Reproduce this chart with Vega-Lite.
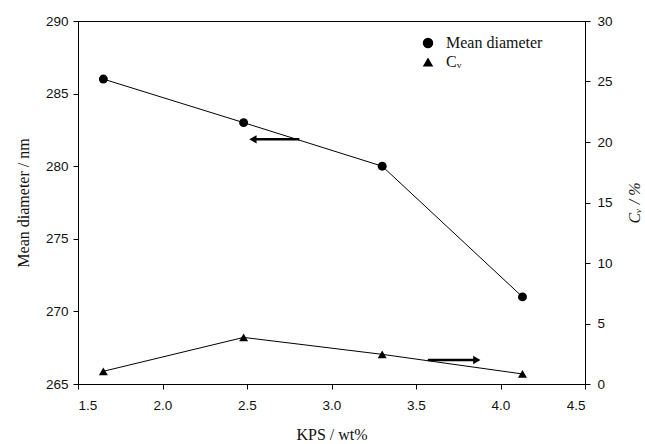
{
  "$schema": "https://vega.github.io/schema/vega-lite/v6.json",
  "width": 507,
  "height": 363,
  "autosize": "none",
  "padding": {"left": 78, "top": 21, "right": 60, "bottom": 60},
  "background": "white",
  "datasets": {
    "diam": [
      {"kps": 1.65, "diameter": 286},
      {"kps": 2.48, "diameter": 283},
      {"kps": 3.30, "diameter": 280},
      {"kps": 4.13, "diameter": 271}
    ],
    "cv": [
      {"kps": 1.65, "cv": 1.05},
      {"kps": 2.48, "cv": 3.85},
      {"kps": 3.30, "cv": 2.45},
      {"kps": 4.13, "cv": 0.83}
    ],
    "arrowL": [
      {"kps": 2.55, "kps_end": 2.81, "tip": 2.535, "diameter": 281.85}
    ],
    "arrowR": [
      {"kps": 3.57, "kps_end": 3.86, "tip": 3.86, "cv": 1.98}
    ]
  },
  "config": {
    "view": {"stroke": "black", "strokeWidth": 1},
    "axis": {
      "grid": false,
      "domainColor": "black",
      "tickColor": "black",
      "tickSize": 5,
      "labelFont": "Liberation Sans",
      "labelFontSize": 13.5,
      "labelColor": "#111",
      "titleFont": "Liberation Serif",
      "titleFontSize": 16,
      "titleFontWeight": "normal",
      "titleColor": "#111"
    },
    "legend": {
      "orient": "none",
      "legendX": 342,
      "legendY": 14,
      "title": null,
      "labelFont": "Liberation Serif",
      "labelFontSize": 16,
      "labelColor": "#111",
      "symbolSize": 110,
      "symbolFillColor": "black",
      "symbolStrokeColor": "black",
      "rowPadding": 2,
      "labelOffset": 10
    }
  },
  "layer": [
    {
      "layer": [
        {
          "data": {"name": "diam"},
          "mark": {"type": "line", "color": "black", "strokeWidth": 1},
          "encoding": {
            "x": {"field": "kps", "type": "quantitative", "title": "KPS / wt%",
                  "scale": {"domain": [1.5, 4.5], "nice": false, "zero": false},
                  "axis": {"values": [1.5, 2.0, 2.5, 3.0, 3.5, 4.0, 4.5], "format": ".1f", "labelPadding": 9, "titlePadding": 15}},
            "y": {"field": "diameter", "type": "quantitative", "title": "Mean diameter / nm",
                  "scale": {"domain": [265, 290], "nice": false, "zero": false},
                  "axis": {"orient": "left", "values": [265, 270, 275, 280, 285, 290], "format": "d", "labelPadding": 5, "titlePadding": 14}}
          }
        },
        {
          "data": {"name": "diam"},
          "mark": {"type": "point", "filled": true, "color": "black", "size": 80, "opacity": 1},
          "encoding": {
            "x": {"field": "kps", "type": "quantitative", "title": "KPS / wt%"},
            "y": {"field": "diameter", "type": "quantitative", "title": "Mean diameter / nm"},
            "shape": {"datum": "Mean diameter", "type": "nominal",
                      "scale": {"domain": ["Mean diameter", "Cᵥ"], "range": ["circle", "triangle-up"]},
                      "legend": {"encode": {"labels": {
                        "enter": {"fontStyle": {"signal": "datum.label === 'Cᵥ' ? 'italic' : 'normal'"}},
                        "update": {"fontStyle": {"signal": "datum.label === 'Cᵥ' ? 'italic' : 'normal'"}}}}}}
          }
        },
        {
          "data": {"name": "arrowL"},
          "mark": {"type": "rule", "color": "black", "strokeWidth": 2.5},
          "encoding": {
            "x": {"field": "kps", "type": "quantitative", "title": "KPS / wt%"},
            "x2": {"field": "kps_end"},
            "y": {"field": "diameter", "type": "quantitative", "title": "Mean diameter / nm"}
          }
        },
        {
          "data": {"name": "arrowL"},
          "mark": {"type": "point", "shape": "triangle-left", "filled": true, "color": "black", "size": 70, "opacity": 1},
          "encoding": {
            "x": {"field": "tip", "type": "quantitative", "title": "KPS / wt%"},
            "y": {"field": "diameter", "type": "quantitative", "title": "Mean diameter / nm"}
          }
        }
      ]
    },
    {
      "layer": [
        {
          "data": {"name": "cv"},
          "mark": {"type": "line", "color": "black", "strokeWidth": 1},
          "encoding": {
            "x": {"field": "kps", "type": "quantitative", "title": "KPS / wt%"},
            "y": {"field": "cv", "type": "quantitative", "title": "Cᵥ / %",
                  "scale": {"domain": [0, 30], "nice": false},
                  "axis": {"orient": "right", "values": [0, 5, 10, 15, 20, 25, 30], "format": "d", "labelPadding": 7, "titlePadding": 30, "titleAngle": 270, "titleFontStyle": "italic"}}
          }
        },
        {
          "data": {"name": "cv"},
          "mark": {"type": "point", "filled": true, "color": "black", "size": 80, "opacity": 1},
          "encoding": {
            "x": {"field": "kps", "type": "quantitative", "title": "KPS / wt%"},
            "y": {"field": "cv", "type": "quantitative", "title": "Cᵥ / %"},
            "shape": {"datum": "Cᵥ", "type": "nominal",
                      "scale": {"domain": ["Mean diameter", "Cᵥ"], "range": ["circle", "triangle-up"]},
                      "legend": {"encode": {"labels": {
                        "enter": {"fontStyle": {"signal": "datum.label === 'Cᵥ' ? 'italic' : 'normal'"}},
                        "update": {"fontStyle": {"signal": "datum.label === 'Cᵥ' ? 'italic' : 'normal'"}}}}}}
          }
        },
        {
          "data": {"name": "arrowR"},
          "mark": {"type": "rule", "color": "black", "strokeWidth": 2.5},
          "encoding": {
            "x": {"field": "kps", "type": "quantitative", "title": "KPS / wt%"},
            "x2": {"field": "kps_end"},
            "y": {"field": "cv", "type": "quantitative", "title": "Cᵥ / %"}
          }
        },
        {
          "data": {"name": "arrowR"},
          "mark": {"type": "point", "shape": "triangle-right", "filled": true, "color": "black", "size": 70, "opacity": 1},
          "encoding": {
            "x": {"field": "tip", "type": "quantitative", "title": "KPS / wt%"},
            "y": {"field": "cv", "type": "quantitative", "title": "Cᵥ / %"}
          }
        }
      ]
    }
  ],
  "resolve": {"scale": {"y": "independent"}}
}
